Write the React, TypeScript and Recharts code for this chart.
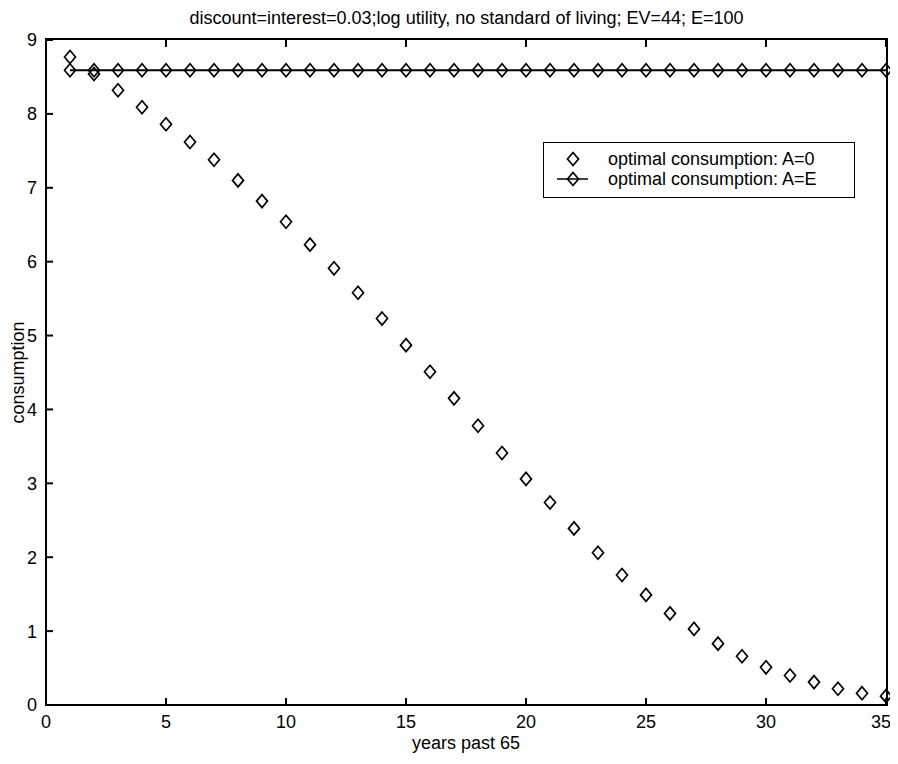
import React from "react";
import { ComposedChart, Line, Scatter, XAxis, YAxis } from "recharts";

const years = [1, 2, 3, 4, 5, 6, 7, 8, 9, 10, 11, 12, 13, 14, 15, 16, 17, 18, 19, 20, 21, 22, 23, 24, 25, 26, 27, 28, 29, 30, 31, 32, 33, 34, 35];
const consumptionA0 = [8.77, 8.54, 8.32, 8.09, 7.86, 7.62, 7.38, 7.1, 6.82, 6.54, 6.23, 5.91, 5.58, 5.23, 4.87, 4.51, 4.15, 3.78, 3.41, 3.06, 2.74, 2.39, 2.06, 1.76, 1.49, 1.24, 1.03, 0.83, 0.66, 0.51, 0.4, 0.31, 0.22, 0.16, 0.12];
const consumptionAE = [8.59, 8.59, 8.59, 8.59, 8.59, 8.59, 8.59, 8.59, 8.59, 8.59, 8.59, 8.59, 8.59, 8.59, 8.59, 8.59, 8.59, 8.59, 8.59, 8.59, 8.59, 8.59, 8.59, 8.59, 8.59, 8.59, 8.59, 8.59, 8.59, 8.59, 8.59, 8.59, 8.59, 8.59, 8.59];
const xTicks = [0, 5, 10, 15, 20, 25, 30, 35];
const yTicks = [0, 1, 2, 3, 4, 5, 6, 7, 8, 9];
const seriesNames = ["optimal consumption: A=0", "optimal consumption: A=E"];
const title = "discount=interest=0.03;log utility, no standard of living; EV=44; E=100";

const data = years.map((y, i) => ({ year: y, a0: consumptionA0[i], ae: consumptionAE[i] }));

const font = "'Liberation Sans', Arial, sans-serif";

// plot box inside the chart
const plotLeft = 38;
const plotTop = 31;
const plotWidth = 841;
const plotHeight = 666;

const Diamond = (props: any) => {
  const { cx, cy } = props;
  if (cx == null || cy == null) return null;
  return (
    <polygon
      points={`${cx},${cy - 6.5} ${cx + 5.5},${cy} ${cx},${cy + 6.5} ${cx - 5.5},${cy}`}
      fill="none"
      stroke="#000"
      strokeWidth={1.7}
    />
  );
};

const LegendBox = () => (
  <div
    style={{
      position: "absolute",
      left: 535,
      top: 134,
      width: 312,
      height: 56,
      border: "1.5px solid #000",
      background: "#fff",
      fontFamily: font,
      fontSize: 18,
      color: "#000",
      boxSizing: "border-box",
      paddingTop: 6,
    }}
  >
    {seriesNames.map((name, i) => (
      <div key={name} style={{ display: "flex", alignItems: "center", height: 20 }}>
        <svg width={64} height={20}>
          {i === 1 && <line x1={13} x2={44} y1={10} y2={10} stroke="#000" strokeWidth={1.5} />}
          <polygon points="29,3.5 34.5,10 29,16.5 23.5,10" fill="none" stroke="#000" strokeWidth={1.7} />
        </svg>
        <span style={{ whiteSpace: "nowrap" }}>{name}</span>
      </div>
    ))}
  </div>
);

export default function App() {
  const tickStyle = { fill: "#000", fontSize: 18, fontFamily: font };
  const tickLine = { stroke: "#000", strokeWidth: 2 };
  return (
    <div style={{ position: "relative", width: 882, height: 748 }}>
      <div
        style={{
          position: "absolute",
          left: 458.5,
          top: 0,
          transform: "translateX(-50%)",
          whiteSpace: "nowrap",
          fontFamily: font,
          fontSize: 18,
          lineHeight: "20px",
          color: "#000",
        }}
      >
        {title}
      </div>
      <ComposedChart width={882} height={748} data={data} margin={{ top: 31, right: 3, bottom: 0, left: 0 }}>
        <XAxis
          xAxisId="b"
          dataKey="year"
          type="number"
          domain={[0, 35]}
          ticks={xTicks}
          height={51}
          stroke="#000"
          tickSize={-7}
          tickMargin={17}
          tick={tickStyle}
          axisLine={false}
          tickLine={tickLine}
          label={{ value: "years past 65", position: "insideBottom", offset: 7, style: { fill: "#000", fontSize: 18, fontFamily: font } }}
        />
        <XAxis
          xAxisId="t"
          orientation="top"
          dataKey="year"
          type="number"
          domain={[0, 35]}
          ticks={xTicks}
          height={1}
          stroke="#000"
          tickSize={-7}
          tickFormatter={() => ""}
          axisLine={false}
          tickLine={tickLine}
        />
        <YAxis
          yAxisId="l"
          domain={[0, 9]}
          ticks={yTicks}
          width={38}
          stroke="#000"
          tickSize={-7}
          tickMargin={16}
          tick={tickStyle}
          axisLine={false}
          tickLine={tickLine}
          label={{ value: "consumption", angle: -90, position: "insideLeft", offset: 10, style: { fill: "#000", fontSize: 18, fontFamily: font, textAnchor: "middle" } }}
        />
        <YAxis
          yAxisId="r"
          orientation="right"
          domain={[0, 9]}
          ticks={yTicks}
          width={1}
          stroke="#000"
          tickSize={-7}
          tickFormatter={() => ""}
          axisLine={false}
          tickLine={tickLine}
        />
        <Line
          xAxisId="b"
          yAxisId="l"
          dataKey="ae"
          name={seriesNames[1]}
          stroke="#000"
          strokeWidth={2}
          dot={<Diamond />}
          activeDot={false}
          isAnimationActive={false}
        />
        <Scatter
          xAxisId="b"
          yAxisId="l"
          dataKey="a0"
          name={seriesNames[0]}
          shape={<Diamond />}
          isAnimationActive={false}
        />
      </ComposedChart>
      <div
        style={{
          position: "absolute",
          left: plotLeft - 1,
          top: plotTop - 1,
          width: plotWidth + 2,
          height: plotHeight + 2,
          border: "2px solid #000",
          boxSizing: "border-box",
          pointerEvents: "none",
        }}
      />
      <LegendBox />
    </div>
  );
}
